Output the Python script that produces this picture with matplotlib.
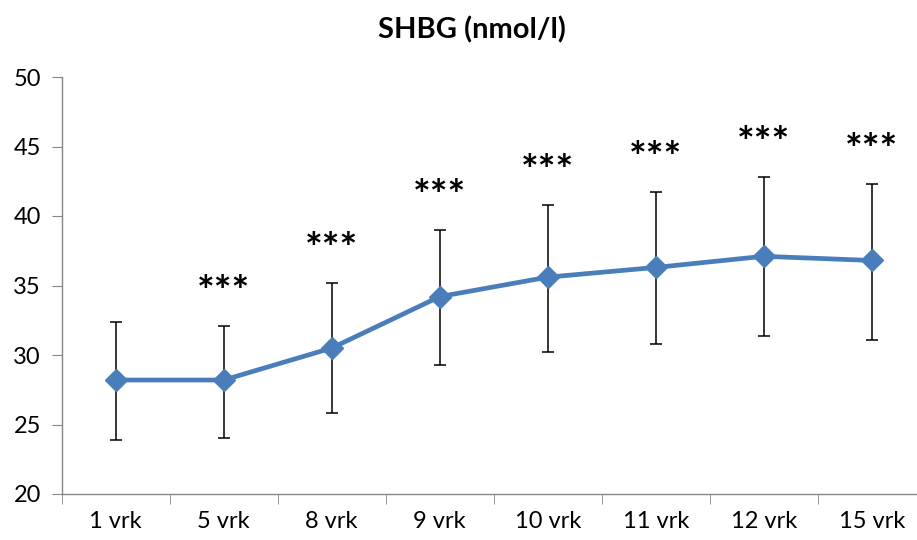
import matplotlib
matplotlib.use('Agg')
import matplotlib.pyplot as plt
import numpy as np

plt.rcParams['font.family'] = ['Lato', 'DejaVu Sans']

days = ['1 vrk', '5 vrk', '8 vrk', '9 vrk', '10 vrk', '11 vrk', '12 vrk', '15 vrk']
shbg = [28.2, 28.2, 30.5, 34.2, 35.6, 36.3, 37.1, 36.8]
err_hi = [32.35, 32.1, 35.2, 39.0, 40.8, 41.7, 42.8, 42.3]
err_lo = [23.9, 24.0, 25.8, 29.3, 30.2, 30.8, 31.4, 31.1]
signif = ['', '***', '***', '***', '***', '***', '***', '***']

x = np.arange(len(days))
shbg = np.array(shbg)
yerr = [shbg - np.array(err_lo), np.array(err_hi) - shbg]

fig = plt.figure(figsize=(9.17, 5.4), dpi=100)
ax = fig.add_axes([61.7 / 917, 46 / 540, 864 / 917, 417 / 540])

ax.errorbar(x, shbg, yerr=yerr, fmt='none', ecolor='black', elinewidth=1.1,
            capsize=4.3, capthick=1.1, zorder=2)
ax.plot(x, shbg, color='#4a7ebb', linewidth=3.4, marker='D', markersize=11,
        markerfacecolor='#4a7ebb', markeredgecolor='#4a7ebb', zorder=3)

# significance stars sit a little above each upper error cap
for xi, top, s in zip(x, err_hi, signif):
    if s:
        ax.text(xi, top + 1.45, s, ha='center', va='baseline', fontsize=30,
                fontweight='bold')

ax.set_xlim(-0.5, len(days) - 0.5)
ax.set_ylim(20, 50)
ax.set_yticks(np.arange(20, 51, 5))
ax.set_xticks(x)
ax.set_xticklabels(days)
ax.set_xticks(np.arange(-0.5, len(days), 1), minor=True)

gray = '#868686'
for side in ['top', 'right']:
    ax.spines[side].set_visible(False)
for side in ['left', 'bottom']:
    ax.spines[side].set_color(gray)
    ax.spines[side].set_linewidth(1.0)

ax.tick_params(axis='y', length=7, color=gray, labelsize=17, pad=8)
ax.tick_params(axis='x', which='major', length=0, labelsize=17, pad=12)
ax.tick_params(axis='x', which='minor', length=7, color=gray, direction='out')

fig.suptitle('SHBG (nmol/l)', x=472 / 917, y=1 - 30 / 540, va='center',
             fontsize=21, fontweight='bold')

fig.savefig('out.png', dpi=100)
